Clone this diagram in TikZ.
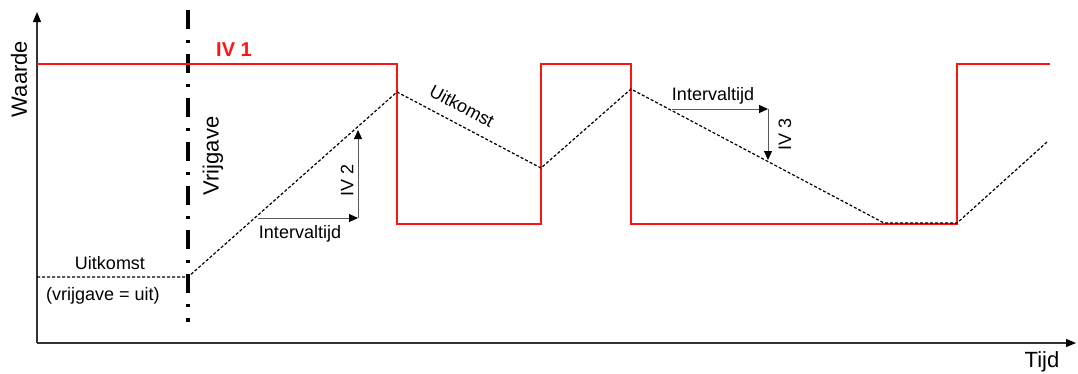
\documentclass[tikz,border=0pt]{standalone}
\usepackage{fontspec}
\setmainfont{Liberation Sans}
\usetikzlibrary{arrows.meta}
\definecolor{ivred}{RGB}{255,20,20}
\definecolor{arrowgray}{RGB}{90,90,90}
\tikzset{
    signal/.style={ivred, line width=1.6pt},
    result/.style={black, line width=1.2pt, dash pattern=on 3pt off 2pt},
    release/.style={black, line width=3.5pt, dash pattern=on 19pt off 11pt on 3pt off 11pt},
    stepline/.style={arrowgray, line width=1pt, -{Triangle[color=black, length=9pt, width=8pt]}},
    axisline/.style={black!80, line width=1.2pt, -{Triangle[color=black, length=10pt, width=8pt]}},
    small/.style={font=\fontsize{18}{20}\selectfont, inner sep=1pt},
    big/.style={font=\fontsize{22}{24}\selectfont, inner sep=1pt},
}
\begin{document}
\begin{tikzpicture}[x=1pt, y=-1pt]
    \useasboundingbox (0,0) rectangle (1078,373);
    % axes
    \coordinate (origin) at (37,343);
    \coordinate (ytop) at (37,12);
    \coordinate (xend) at (1076,343);
    \draw[axisline] (origin) -- (ytop);
    \draw[axisline] (origin) -- (xend);
    \node[big, rotate=90] (waarde) at (19,79) {Waarde};
    \node[big] (tijd) at (1042,362) {Tijd};
    % release line
    \coordinate (reltop) at (188,10);
    \coordinate (relbot) at (188,322);
    \draw[release] (reltop) -- (relbot);
    \node[big, rotate=90] (vrijgave) at (213,156) {Vrijgave};
    % IV 1 signal
    \draw[signal] (37,64) -- (397,64) -- (397,224) -- (541,224) -- (541,64)
        -- (631,64) -- (631,224) -- (957,224) -- (957,64) -- (1050,64);
    \node[ivred, font=\fontsize{20}{22}\selectfont\bfseries, inner sep=1pt] (iv1) at (234,50) {IV 1};
    % result
    \coordinate (r0) at (37,277);
    \coordinate (r1) at (188,277);
    \coordinate (r2) at (397,92);
    \coordinate (r3) at (541,168);
    \coordinate (r4) at (631,89);
    \coordinate (r5) at (884,223);
    \coordinate (r6) at (957,223);
    \coordinate (r7) at (1047,142);
    \draw[result] (r0) -- (r1) -- (r2) -- (r3) -- (r4) -- (r5) -- (r6) -- (r7);
    \node[small] (uitkomst) at (110,263) {Uitkomst};
    \node[small] (uit) at (103,296) {(vrijgave = uit)};
    \node[small, rotate=-28] (uitkomst2) at (462,106) {Uitkomst};
    % IV 2 step
    \coordinate (a2) at (258,218);
    \coordinate (b2) at (358,218);
    \coordinate (c2) at (358,130);
    \draw[stepline] (a2) -- (b2);
    \draw[stepline] (b2) -- (c2);
    \node[small] (interval2) at (300,234) {Intervaltijd};
    \node[small, rotate=90] (iv2) at (347,180) {IV 2};
    % IV 3 step
    \coordinate (a3) at (672,109);
    \coordinate (b3) at (768,109);
    \coordinate (c3) at (768,160);
    \draw[stepline] (a3) -- (b3);
    \draw[stepline] (b3) -- (c3);
    \node[small] (interval3) at (713,96) {Intervaltijd};
    \node[small, rotate=90] (iv3) at (785,134) {IV 3};
\end{tikzpicture}
\end{document}
